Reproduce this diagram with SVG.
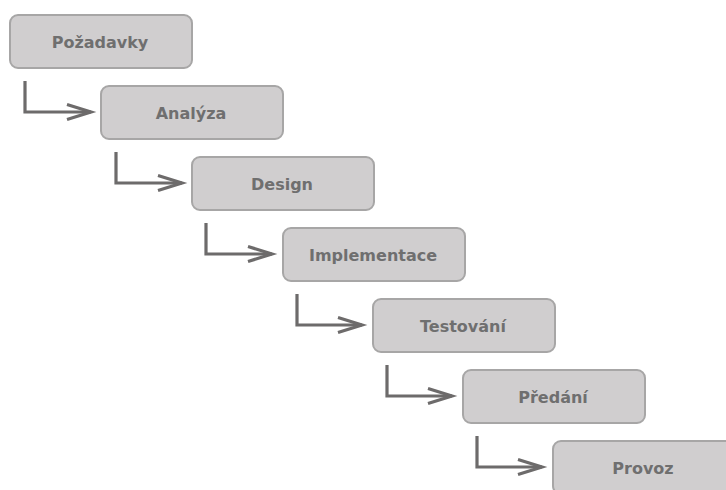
<svg xmlns="http://www.w3.org/2000/svg" width="726" height="490" viewBox="0 0 726 490">
  <style>
    .box { fill: #d0cecf; stroke: #a7a6a6; stroke-width: 2; }
    .lbl { font-family: "DejaVu Sans", "Noto Sans", sans-serif; font-weight: bold; font-size: 16px; fill: #6f6f6f; text-anchor: middle; }
    .flow { fill: none; stroke: #6d6b6b; stroke-width: 3.2; stroke-linejoin: miter; }
  </style>
  <defs>
    <!-- open chevron head for the step connectors -->
    <marker id="chevron" viewBox="0 0 10 10" refX="9" refY="5" markerWidth="10" markerHeight="10" markerUnits="userSpaceOnUse" orient="auto" overflow="visible">
      <path d="M -15 -2.5 L 9 5 L -15 12.5" fill="none" stroke="#6d6b6b" stroke-width="3.2" stroke-linejoin="miter"/>
    </marker>
  </defs>
  <rect width="726" height="490" fill="#ffffff"/>

  <g id="connectors">
    <path class="flow" d="M 25 81 V 112 H 91" marker-end="url(#chevron)"/>
    <path class="flow" d="M 116 152 V 183 H 182" marker-end="url(#chevron)"/>
    <path class="flow" d="M 206 223 V 254 H 272" marker-end="url(#chevron)"/>
    <path class="flow" d="M 297 294 V 325 H 362" marker-end="url(#chevron)"/>
    <path class="flow" d="M 387 365 V 396 H 452" marker-end="url(#chevron)"/>
    <path class="flow" d="M 477 436 V 467 H 542" marker-end="url(#chevron)"/>
  </g>

  <g id="pozadavky">
    <rect class="box" x="10" y="15" width="182" height="53" rx="8"/>
    <text class="lbl" x="100" y="48">Požadavky</text>
  </g>
  <g id="analyza">
    <rect class="box" x="101" y="86" width="182" height="53" rx="8"/>
    <text class="lbl" x="191" y="119">Analýza</text>
  </g>
  <g id="design">
    <rect class="box" x="192" y="157" width="182" height="53" rx="8"/>
    <text class="lbl" x="282" y="190">Design</text>
  </g>
  <g id="implementace">
    <rect class="box" x="283" y="228" width="182" height="53" rx="8"/>
    <text class="lbl" x="373" y="261">Implementace</text>
  </g>
  <g id="testovani">
    <rect class="box" x="373" y="299" width="182" height="53" rx="8"/>
    <text class="lbl" x="463" y="332">Testování</text>
  </g>
  <g id="predani">
    <rect class="box" x="463" y="370" width="182" height="53" rx="8"/>
    <text class="lbl" x="553" y="403">Předání</text>
  </g>
  <g id="provoz">
    <rect class="box" x="553" y="441" width="182" height="53" rx="8"/>
    <text class="lbl" x="643" y="474">Provoz</text>
  </g>
</svg>
